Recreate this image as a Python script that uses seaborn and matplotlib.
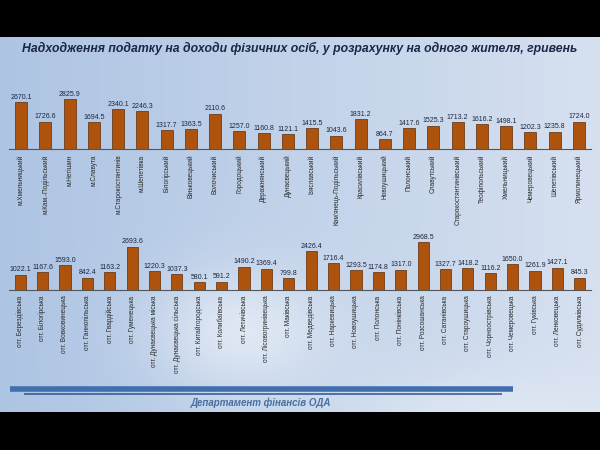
import numpy as np
import matplotlib
matplotlib.use("Agg")
import matplotlib.pyplot as plt
import seaborn as sns

# ---- data ----
top_names = ["м.Хмельницький", "м.Кам.-Подільський", "м.Нетішин", "м.Славута",
             "м.Старокостянтинів", "м.Шепетівка", "Білогірський", "Віньковецький",
             "Волочиський", "Городоцький", "Деражнянський", "Дунаєвецький",
             "Ізяславський", "Кам'янець-Подільський", "Красилівський", "Новоушицький",
             "Полонський", "Славутський", "Старокостянтинівський", "Теофіпольський",
             "Хмельницький", "Чемеровецький", "Шепетівський", "Ярмолинецький"]
top_values = [2670.1, 1726.6, 2825.9, 1694.5, 2340.1, 2246.3, 1317.7, 1363.5,
              2110.6, 1257.0, 1160.8, 1121.1, 1415.5, 1043.6, 1831.2, 864.7,
              1417.6, 1525.3, 1713.2, 1616.2, 1498.1, 1202.3, 1235.8, 1724.0]

bottom_names = ["отг. Берездівська", "отг. Білогірська", "отг. Вовковинецька",
                "отг. Ганнопільська", "отг. Гвардійська", "отг. Гуменецька",
                "отг. Дунаєвецька міська", "отг. Дунаєвецька сільська",
                "отг. Китайгородська", "отг. Колибаївська", "отг. Летичівська",
                "отг. Лісовогринівецька", "отг. Маківська", "отг. Медведівська",
                "отг. Наркевицька", "отг. Новоушицька", "отг. Полонська",
                "отг. Понінківська", "отг. Розсошанська", "отг. Сатанівська",
                "отг. Староушицька", "отг. Чорноострівська", "отг. Чемеровецька",
                "отг. Гуківська", "отг. Ленковецька", "отг. Судилківська"]
bottom_values = [1022.1, 1167.6, 1593.0, 842.4, 1163.2, 2693.6, 1220.3, 1037.3,
                 580.1, 591.2, 1490.2, 1369.4, 799.8, 2426.4, 1716.4, 1293.5,
                 1174.8, 1317.0, 2968.5, 1327.7, 1418.2, 1116.2, 1650.0, 1261.9,
                 1427.1, 845.3]

title = "Надходження податку на доходи фізичних осіб, у розрахунку на одного жителя, гривень"
footer = "Департамент фінансів ОДА"

sns.set_theme(style="white")
plt.rcParams['font.family'] = ['Liberation Sans', 'DejaVu Sans']

W, H = 600, 450
fig = plt.figure(figsize=(6, 4.5), dpi=100)

# background: light blue gradient with soft glow, black bands top and bottom
yy, xx = np.mgrid[0:H, 0:W]
c1 = np.array([0.68, 0.77, 0.89])
c2 = np.array([0.84, 0.88, 0.94])
t = (xx / W)[..., None]
bg = c1 * (1 - t) + c2 * t
glow = np.exp(-(((xx - 240) / 90.0) ** 2 + ((yy - 330) / 60.0) ** 2))[..., None]
bg = bg * (1 - 0.5 * glow) + 0.5 * glow
glow2 = np.exp(-(((xx - 470) / 160.0) ** 2 + ((yy - 420) / 50.0) ** 2))[..., None]
bg = bg * (1 - 0.3 * glow2) + 0.3 * glow2
bg[:37] = 0
bg[412:] = 0
bgax = fig.add_axes([0, 0, 1, 1], zorder=-10)
bgax.imshow(np.clip(bg, 0, 1), aspect='auto', extent=(0, W, H, 0))
bgax.set_xlim(0, W)
bgax.set_ylim(H, 0)
bgax.axis('off')

bar_color = "#ae530d"
edge_color = "#5e2c06"


def draw_panel(rect, names, values, ylo, yhi):
    ax = fig.add_axes(rect)
    ax.patch.set_alpha(0)
    sns.barplot(x=names, y=values, ax=ax, color=bar_color, width=0.5,
                edgecolor=edge_color, linewidth=0.5, saturation=1)
    n = len(names)
    ax.set_xlim(-0.5, n - 0.5)
    ax.set_ylim(ylo, yhi)
    ax.bar_label(ax.containers[0], labels=[f"{v:.1f}" for v in values],
                 fontsize=5, color="#1c2740", padding=1)
    ax.set_xticks(range(n))
    ax.set_xticklabels(names, rotation=90, fontsize=4.7, color="#2a2a2a")
    ax.set_xticks(np.arange(-0.5, n), minor=True)
    ax.tick_params(axis='x', which='major', length=0, pad=4)
    ax.tick_params(axis='x', which='minor', length=2.5, width=0.6, color="#444444")
    ax.set_yticks([])
    ax.set_xlabel("")
    ax.set_ylabel("")
    for s in ["top", "left", "right"]:
        ax.spines[s].set_visible(False)
    ax.spines["bottom"].set_color("#555555")
    ax.spines["bottom"].set_linewidth(0.8)
    return ax


# top panel: baseline y=149 px, top y=90 px
draw_panel([9 / W, 1 - 149 / H, 582 / W, 59 / H], top_names, top_values, 400, 3262)
# bottom panel: baseline y=290 px, top y=232 px
draw_panel([9 / W, 1 - 290 / H, 582 / W, 58 / H], bottom_names, bottom_values, 100, 3566)

fig.text(0.5, 1 - 48 / H, title, ha='center', va='center', fontsize=8.8,
         fontweight='bold', fontstyle='italic', color="#1b2748")

# decorative lines above footer
bgax.plot([10, 513], [389, 389], color="#416fae", lw=4, solid_capstyle='butt')
bgax.plot([24, 502], [394, 394], color="#2d5590", lw=1.1, solid_capstyle='butt')

fig.text(261 / W, 1 - 403 / H, footer, ha='center', va='center', fontsize=7,
         fontweight='bold', fontstyle='italic', color="#4a6ea0")

fig.savefig("out.png", dpi=100)
